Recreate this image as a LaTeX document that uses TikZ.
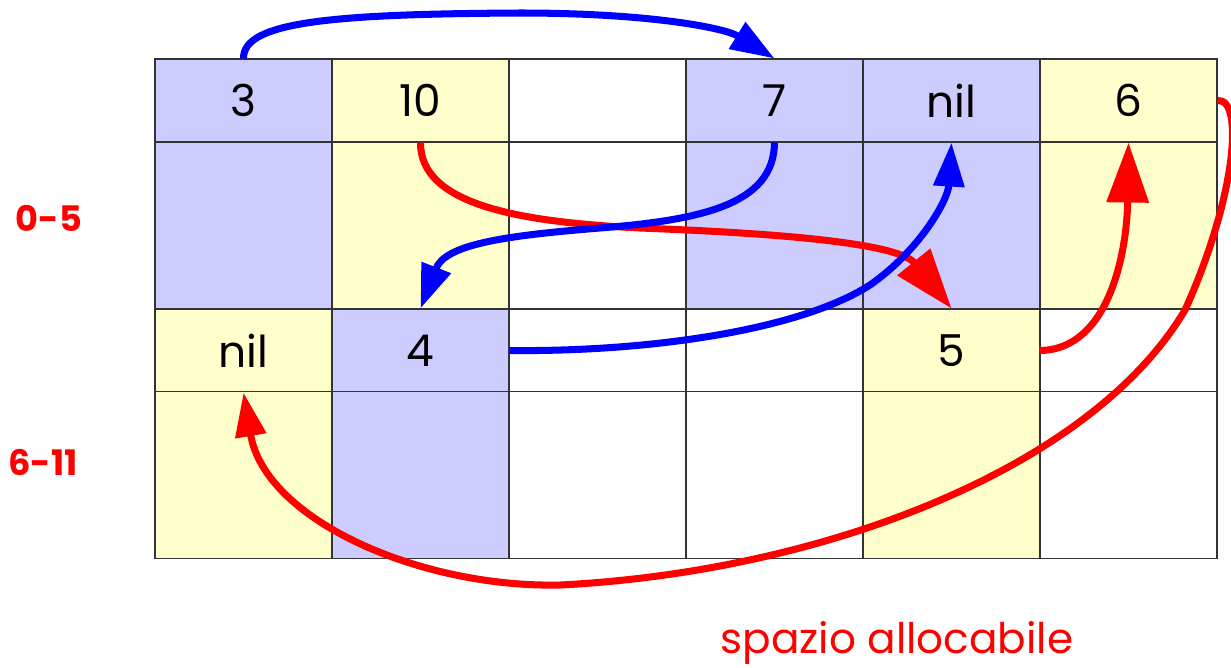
\documentclass[tikz,border=0pt]{standalone}
\usepackage{fontspec}
\setmainfont{Poppins}
\usetikzlibrary{arrows.meta}
\definecolor{cblue}{HTML}{CCCCFF}
\definecolor{cyel}{HTML}{FFFFCC}
\tikzset{
  cell/.style={draw=black!80, line width=0.6pt, minimum width=3.54cm, inner sep=0pt, font=\fontsize{25}{30}\selectfont},
  rowthin/.style={cell, minimum height=1.66cm},
  rowtall/.style={cell, minimum height=3.34cm},
  bl/.style={fill=cblue},
  ye/.style={fill=cyel},
  wh/.style={fill=white},
  ptr/.style={line width=4pt, -{Triangle[length=0.88cm,width=0.6cm]}},
  bigptr/.style={line width=4pt, -{Triangle[length=1.2cm,width=0.82cm]}},
  rng/.style={text=red, font=\bfseries\fontsize{20}{24}\selectfont},
}
\begin{document}
\begin{tikzpicture}[x=0.02cm,y=-0.02cm]
\useasboundingbox (0,0) rectangle (1231,667);
% top block
\node[rowthin,bl] (a0) at (243.5,100.5) {3};
\node[rowthin,ye] (a1) at (420.5,100.5) {10};
\node[rowthin,wh] (a2) at (597.5,100.5) {};
\node[rowthin,bl] (a3) at (774.5,100.5) {7};
\node[rowthin,bl] (a4) at (951.5,100.5) {nil};
\node[rowthin,ye] (a5) at (1128.5,100.5) {6};
\node[rowtall,bl] (b0) at (243.5,225.5) {};
\node[rowtall,ye] (b1) at (420.5,225.5) {};
\node[rowtall,wh] (b2) at (597.5,225.5) {};
\node[rowtall,bl] (b3) at (774.5,225.5) {};
\node[rowtall,bl] (b4) at (951.5,225.5) {};
\node[rowtall,ye] (b5) at (1128.5,225.5) {};
% bottom block
\node[rowthin,ye] (c0) at (243.5,350.5) {nil};
\node[rowthin,bl] (c1) at (420.5,350.5) {4};
\node[rowthin,wh] (c2) at (597.5,350.5) {};
\node[rowthin,wh] (c3) at (774.5,350.5) {};
\node[rowthin,ye] (c4) at (951.5,350.5) {5};
\node[rowthin,wh] (c5) at (1128.5,350.5) {};
\node[rowtall,ye] (d0) at (243.5,475) {};
\node[rowtall,bl] (d1) at (420.5,475) {};
\node[rowtall,wh] (d2) at (597.5,475) {};
\node[rowtall,wh] (d3) at (774.5,475) {};
\node[rowtall,ye] (d4) at (951.5,475) {};
\node[rowtall,wh] (d5) at (1128.5,475) {};
% labels
\node[rng] (r05) at (49,218) {0-5};
\node[rng] (r611) at (43,462) {6-11};
\node[text=red, font=\fontsize{24}{28}\selectfont] (sp) at (897,643) {spazio allocabile};
% pointers
\draw[ptr, blue] (a0.north) .. controls (243,22) and (330,14) .. (520,13)
   .. controls (650,13) and (725,28) .. (a3.north);
\draw[bigptr, red] (a1.south) .. controls (420,205) and (520,222) .. (640,228)
   .. controls (800,234) and (900,245) .. (c4.north);
\draw[ptr, blue] (a3.south) .. controls (774,205) and (700,220) .. (600,228)
   .. controls (500,236) and (445,245) .. (c1.north);
\draw[ptr, blue] (c1.east) .. controls (650,352) and (800,330) .. (870,285)
   .. controls (920,250) and (948,200) .. (a4.south);
\draw[bigptr, red] (c5.west) .. controls (1110,350) and (1127,250) .. (a5.south);
\draw[ptr, red] (a5.east) .. controls (1245,98) and (1235,200) .. (1185,310)
   .. controls (1090,470) and (820,572) .. (560,585)
   .. controls (420,588) and (265,520) .. (c0.south);
\end{tikzpicture}
\end{document}
